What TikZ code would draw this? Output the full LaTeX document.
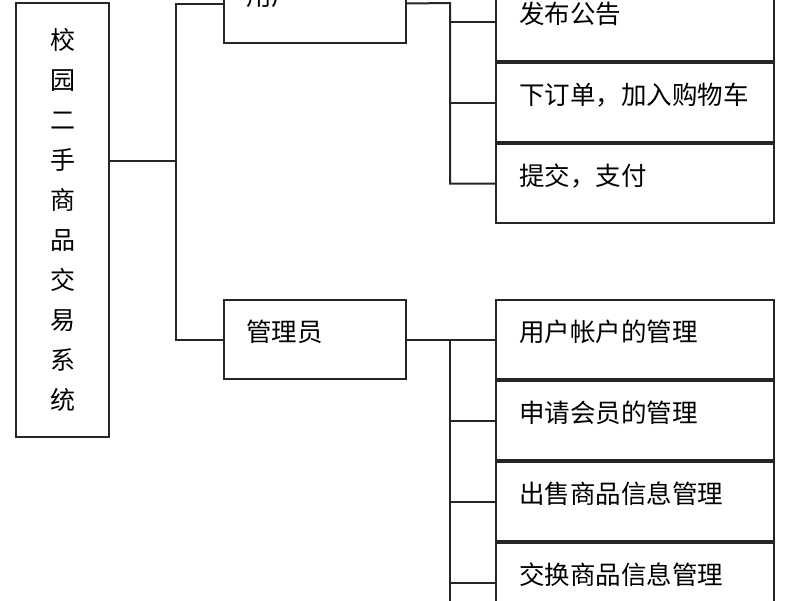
\documentclass[tikz,border=0pt]{standalone}
\usepackage{fontspec}
\setmainfont{Noto Sans CJK SC}
\usetikzlibrary{positioning}
\tikzset{
  link/.style={line width=2pt, color=black!85},
  box/.style={draw=black!85, line width=2pt, anchor=north west, text width=232pt,
    inner xsep=23pt, inner ysep=0pt, text height=41pt, text depth=38pt, align=left,
    font=\fontsize{25.5}{30}\selectfont},
  rolebox/.style={box, text width=138pt, inner xsep=22pt}
}
\begin{document}
\begin{tikzpicture}[x=1pt,y=-1pt]
  \clip (0,0) rectangle (800,600);
  \fill[white] (0,0) rectangle (800,600);
  % root
  \node[draw=black!85, line width=2pt, minimum width=93pt, minimum height=434pt,
    align=center, font=\fontsize{25}{40}\selectfont] (root) at (62.5,220)
    {校\\园\\二\\手\\商\\品\\交\\易\\系\\统};
  % roles
  \node[rolebox] (user) at (223,-37) {用户};
  \node[rolebox] (admin) at (223,299) {管理员};
  % user functions
  \node[box] (u1) at (495,-19) {发布公告};
  \node[box, below=0pt of u1] (u2) {下订单，加入购物车};
  \node[box, below=0pt of u2] (u3) {提交，支付};
  % admin functions
  \node[box] (a1) at (495,299) {用户帐户的管理};
  \node[box, below=0pt of a1] (a2) {申请会员的管理};
  \node[box, below=0pt of a2] (a3) {出售商品信息管理};
  \node[box, below=0pt of a3] (a4) {交换商品信息管理};
  % connectors
  \coordinate (j0) at (176,161);
  \draw[link] (root.east |- j0) -- (j0);
  \draw[link] (user.west) -| (j0) |- (admin.west);
  \coordinate (j1) at (450,3);
  \draw[link] (user.east) -- (j1) |- (u3.west);
  \foreach \n in {u1,u2} \draw[link] (j1 |- \n.west) -- (\n.west);
  \coordinate (j2) at (450,620);
  \draw[link] (admin.east) -- (a1.west);
  \draw[link] (j1 |- a1.west) -- (j2);
  \foreach \n in {a2,a3,a4} \draw[link] (j1 |- \n.west) -- (\n.west);
\end{tikzpicture}
\end{document}
